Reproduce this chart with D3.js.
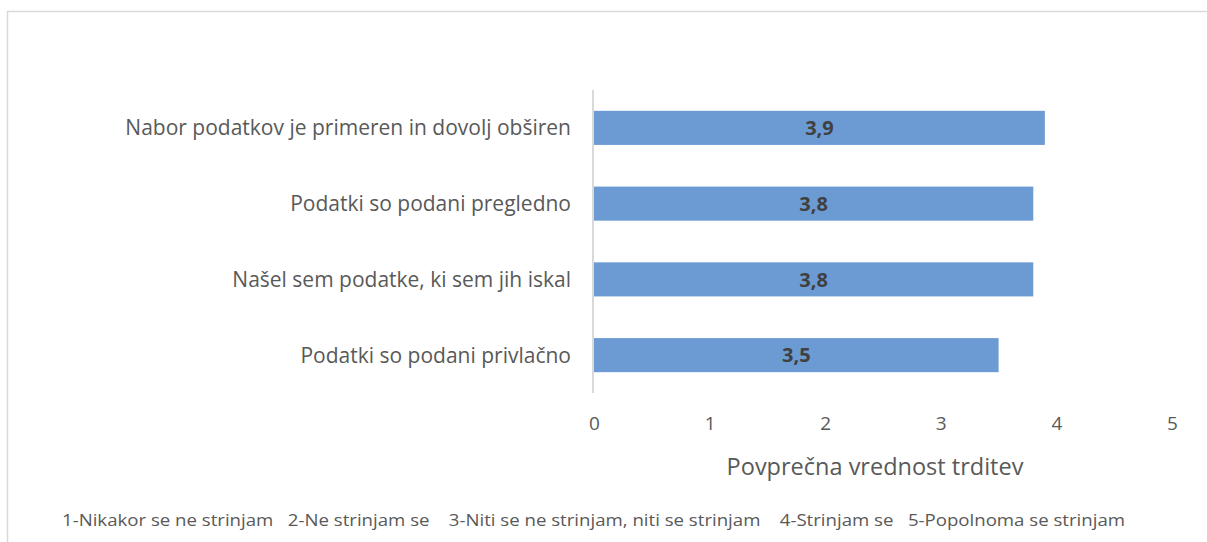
<!DOCTYPE html>
<html>
<head>
<meta charset="utf-8">
<script src="https://cdn.jsdelivr.net/npm/d3@7"></script>
<style>
  body { margin: 0; background: #fff; }
  svg { display: block; }
</style>
</head>
<body>
<div id="chart"></div>
<script>
// chart data
const categories = [
    'Nabor podatkov je primeren in dovolj obširen',
    'Podatki so podani pregledno',
    'Našel sem podatke, ki sem jih iskal',
    'Podatki so podani privlačno'
];
const values = [3.9, 3.8, 3.8, 3.5];
const xTicks = [0, 1, 2, 3, 4, 5];
const axisTitle = 'Povprečna vrednost trditev';
const legendText = '1-Nikakor se ne strinjam   2-Ne strinjam se    3-Niti se ne strinjam, niti se strinjam    4-Strinjam se   5-Popolnoma se strinjam';

const width = 1207, height = 542;
const font = '"Open Sans", sans-serif';
const narrowFont = '"Liberation Sans Narrow", "Open Sans", sans-serif';

const svg = d3.select('#chart').append('svg')
    .attr('width', width)
    .attr('height', height);

// outer chart frame (only top and left edges are visible)
svg.append('path')
    .attr('d', `M7.5,${height} L7.5,11.5 L${width},11.5`)
    .attr('fill', 'none')
    .attr('stroke', '#d9d9d9')
    .attr('stroke-width', 1.5);

const x = d3.scaleLinear().domain([0, 5]).range([594, 1172]);
const y = d3.scaleBand().domain(categories).range([90, 393]).paddingInner(0.55).paddingOuter(0.275);

// bars
svg.selectAll('.bar')
    .data(categories)
    .enter()
    .append('rect')
    .attr('class', 'bar')
    .attr('x', x(0))
    .attr('y', d => y(d))
    .attr('width', (d, i) => x(values[i]) - x(0))
    .attr('height', y.bandwidth())
    .attr('fill', '#6b9bd2');

// value labels
svg.selectAll('.val')
    .data(categories)
    .enter()
    .append('text')
    .attr('class', 'val')
    .attr('x', (d, i) => (x(0) + x(values[i])) / 2)
    .attr('y', d => y(d) + y.bandwidth() / 2)
    .attr('dy', '0.36em')
    .attr('text-anchor', 'middle')
    .style('font-family', font)
    .style('font-size', '20px')
    .style('font-weight', 'bold')
    .style('fill', '#404040')
    .text((d, i) => String(values[i]).replace('.', ','));

// category axis line
svg.append('line')
    .attr('x1', x(0) - 1).attr('x2', x(0) - 1)
    .attr('y1', 90).attr('y2', 393)
    .attr('stroke', '#d9d9d9')
    .attr('stroke-width', 2);

// category labels
svg.selectAll('.cat')
    .data(categories)
    .enter()
    .append('text')
    .attr('class', 'cat')
    .attr('x', 571)
    .attr('y', d => y(d) + y.bandwidth() / 2)
    .attr('dy', '0.36em')
    .attr('text-anchor', 'end')
    .style('font-family', font)
    .style('font-size', '21px')
    .style('fill', '#595959')
    .text(d => d);

// x axis tick labels
const xAxis = d3.axisBottom(x).tickValues(xTicks).tickFormat(d3.format('d')).tickSize(0).tickPadding(0);
const gx = svg.append('g')
    .attr('transform', 'translate(0,416)')
    .call(xAxis);
gx.select('.domain').remove();
gx.selectAll('text')
    .style('font-family', font)
    .style('font-size', '19px')
    .style('fill', '#595959');

// axis title
svg.append('text')
    .attr('x', 875)
    .attr('y', 475)
    .attr('text-anchor', 'middle')
    .style('font-family', font)
    .style('font-size', '23.5px')
    .style('fill', '#595959')
    .text(axisTitle);

// legend note
svg.append('text')
    .attr('x', 62)
    .attr('y', 526)
    .attr('textLength', 1063)
    .attr('lengthAdjust', 'spacingAndGlyphs')
    .attr('xml:space', 'preserve')
    .style('font-family', narrowFont)
    .style('font-size', '17px')
    .style('fill', '#595959')
    .style('white-space', 'pre')
    .text(legendText);
</script>
</body>
</html>
